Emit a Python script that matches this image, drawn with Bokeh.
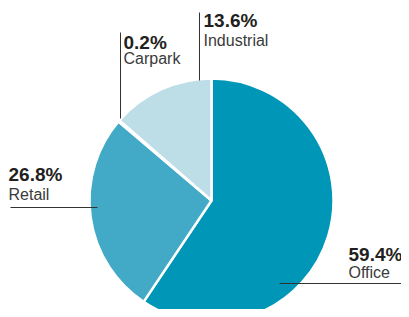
import numpy as np
from bokeh.plotting import figure
from bokeh.models import ColumnDataSource, Range1d
from bokeh.core.properties import value
from bokeh.embed import file_html
from bokeh.resources import INLINE

# ---- data ----
categories = ["Office", "Retail", "Carpark", "Industrial"]
shares = [59.4, 26.8, 0.2, 13.6]
value_labels = ["59.4%", "26.8%", "0.2%", "13.6%"]
colors = ["#0096B8", "#42AAC7", "#FFFFFF", "#BDDDE7"]

# ---- layout (pixel coords from top-left; converted to y-up below) ----
W, H = 401, 309
cx, cy_px, r = 211, 200, 122
lab_x = [348, 8, 123, 203]
val_base = [254, 174, 42, 20]
name_base = [272, 194, 58, 40]
lines_x = [[279, 401], [10, 97], [120, 120], [199, 199]]
lines_ypx = [[283, 283], [207, 207], [32, 118], [12, 80]]

total = sum(shares)
frac = np.array(shares) / total
cum = np.concatenate([[0], np.cumsum(frac)])
start = 90 - cum[:-1] * 360
end = 90 - cum[1:] * 360

src = ColumnDataSource(dict(cat=categories, start=start, end=end, color=colors))

p = figure(width=W, height=H, output_backend="svg", toolbar_location=None,
           x_range=Range1d(0, W), y_range=Range1d(0, H),
           x_axis_type=None, y_axis_type=None, min_border=0)
p.grid.visible = False
p.outline_line_color = None
p.background_fill_color = "white"

p.wedge(x=cx, y=H - cy_px, radius=r, start_angle="start", end_angle="end",
        start_angle_units="deg", end_angle_units="deg", direction="clock",
        fill_color="color", line_color="white", line_width=2.5, source=src)

for i in range(len(categories)):
    p.line(lines_x[i], [H - v for v in lines_ypx[i]], line_color="#333333", line_width=1)

p.text(x=lab_x, y=[H - v for v in val_base], text=value_labels,
       text_font=value("Liberation Sans"),
       text_font_style="bold", text_font_size="19px", text_color="#231F20",
       text_baseline="alphabetic", text_align="left")
p.text(x=lab_x, y=[H - v for v in name_base], text=categories,
       text_font=value("Liberation Sans"),
       text_font_size="16px", text_color="#3A3A3A",
       text_baseline="alphabetic", text_align="left")

open("out.html", "w").write(file_html(p, INLINE))
